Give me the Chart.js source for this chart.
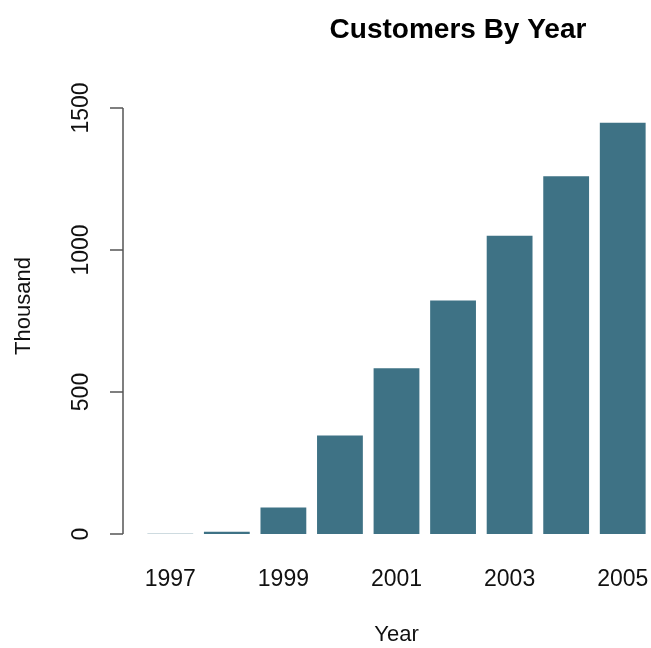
<!DOCTYPE html>
<html>
<head>
<meta charset="utf-8">
<title>Customers By Year</title>
<script src="https://cdn.jsdelivr.net/npm/chart.js@4"></script>
<style>
  html, body { margin: 0; padding: 0; background: #ffffff; }
  #chartBox { width: 651px; height: 648px; }
</style>
</head>
<body>
<div id="chartBox"><canvas id="customersChart" width="651" height="648"></canvas></div>
<script>
// Customers per year, in thousands
const years = ["1997", "1998", "1999", "2000", "2001", "2002", "2003", "2004", "2005"];
const customers = [1, 8, 93, 347, 584, 822, 1050, 1260, 1448];
const yTicks = [0, 500, 1000, 1500];

const chartTitle = "Customers By Year";
const xTitle = "Year";
const yTitle = "Thousand";

const barColor = "#3e7285";
const fontFamily = "'Liberation Sans', Arial, Helvetica, sans-serif";

// R-style extras: detached y axis line, axis title and main title
const rStyleAxis = {
    id: "rStyleAxis",
    afterDraw(chart) {
        const ctx = chart.ctx;
        const yScale = chart.scales.y;
        const area = chart.chartArea;
        const axisX = area.left - 19;
        const yTop = yScale.getPixelForValue(yTicks[yTicks.length - 1]);
        const yBottom = yScale.getPixelForValue(yTicks[0]);

        ctx.save();
        ctx.strokeStyle = "#555555";
        ctx.lineWidth = 1.5;
        ctx.beginPath();
        ctx.moveTo(axisX, yTop);
        ctx.lineTo(axisX, yBottom);
        yTicks.forEach(function (v) {
            const py = yScale.getPixelForValue(v);
            ctx.moveTo(axisX, py);
            ctx.lineTo(axisX - 13, py);
        });
        ctx.stroke();

        // y axis title
        ctx.fillStyle = "#111111";
        ctx.font = "22px " + fontFamily;
        ctx.textAlign = "center";
        ctx.textBaseline = "middle";
        ctx.translate(24, 306);
        ctx.rotate(-Math.PI / 2);
        ctx.fillText(yTitle, 0, 0);
        ctx.restore();

        // main title
        ctx.save();
        ctx.fillStyle = "#000000";
        ctx.font = "bold 28px " + fontFamily;
        ctx.textAlign = "center";
        ctx.textBaseline = "middle";
        ctx.fillText(chartTitle, 458, 30);
        ctx.restore();
    }
};

document.addEventListener("DOMContentLoaded", function () {
    if (typeof Chart === "undefined") {
        console.error("Chart.js is not loaded!");
        return;
    }

    const ctx = document.getElementById("customersChart").getContext("2d");

    new Chart(ctx, {
        type: "bar",
        data: {
            labels: years,
            datasets: [{
                label: yTitle,
                data: customers,
                backgroundColor: barColor,
                borderWidth: 0,
                barPercentage: 0.81,
                categoryPercentage: 1.0
            }]
        },
        options: {
            responsive: false,
            animation: false,
            layout: {
                padding: { top: 108, right: 0, bottom: 0, left: 0 }
            },
            scales: {
                x: {
                    offset: true,
                    grid: { display: false, drawTicks: false },
                    border: { display: false },
                    afterFit: function (scale) {
                        scale.height = 114;
                        scale.paddingLeft = 0;
                        scale.paddingRight = 0;
                    },
                    ticks: {
                        autoSkip: false,
                        maxRotation: 0,
                        padding: 32,
                        color: "#111111",
                        font: { family: fontFamily, size: 23 },
                        callback: function (value, index) {
                            return index % 2 === 0 ? years[index] : "";
                        }
                    },
                    title: {
                        display: true,
                        text: xTitle,
                        color: "#111111",
                        font: { family: fontFamily, size: 22 },
                        padding: { top: 28, bottom: 0 }
                    }
                },
                y: {
                    min: yTicks[0],
                    max: yTicks[yTicks.length - 1],
                    grid: { display: false, drawTicks: false },
                    border: { display: false },
                    afterFit: function (scale) {
                        scale.width = 142;
                        scale.paddingTop = 0;
                        scale.paddingBottom = 0;
                    },
                    ticks: {
                        stepSize: 500,
                        minRotation: 90,
                        maxRotation: 90,
                        crossAlign: "center",
                        padding: 35,
                        color: "#111111",
                        font: { family: fontFamily, size: 23 },
                        callback: function (value) {
                            return String(value);
                        }
                    }
                }
            },
            plugins: {
                legend: { display: false },
                tooltip: { enabled: false }
            }
        },
        plugins: [rStyleAxis]
    });
});
</script>
</body>
</html>
